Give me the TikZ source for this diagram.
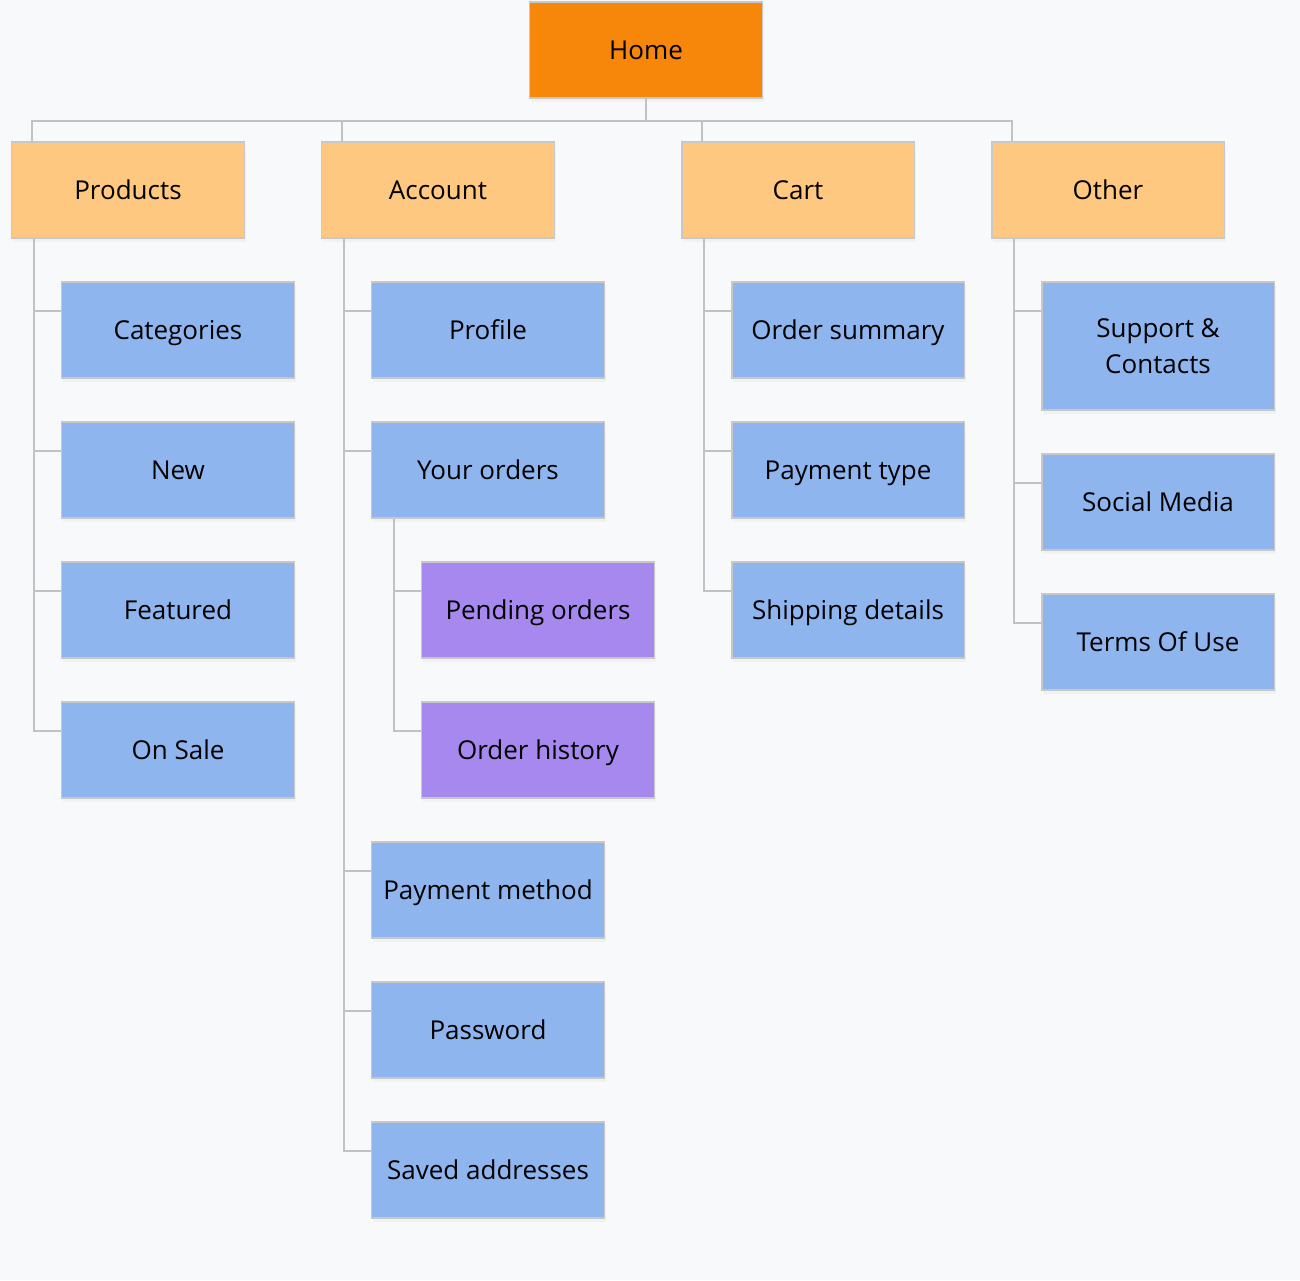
\documentclass[tikz,border=0pt]{standalone}
\usepackage{fontspec}
\setmainfont{Open Sans}
\usepackage{tikz}
\usetikzlibrary{shadows}
\definecolor{bgcol}{HTML}{F8F9FB}
\definecolor{homecol}{HTML}{F6870A}
\definecolor{sectcol}{HTML}{FFC880}
\definecolor{pagecol}{HTML}{8FB5EE}
\definecolor{subcol}{HTML}{A688EE}
\definecolor{edgecol}{HTML}{C8C8C8}
\definecolor{linecol}{HTML}{C2C2C2}

\begin{document}
\begin{tikzpicture}[x=0.02cm,y=-0.02cm,
  box/.style={draw=edgecol,line width=1.1pt,minimum width=4.66cm,minimum height=1.92cm,
    inner sep=2pt,align=center,font=\fontsize{14.8}{20.5}\selectfont,
    text height=12.5pt,text depth=1.6pt,
    drop shadow={opacity=0.06,shadow xshift=1pt,shadow yshift=-2pt}},
  home/.style={box,fill=homecol},
  sect/.style={box,fill=sectcol},
  page/.style={box,fill=pagecol},
  sub/.style={box,fill=subcol},
  link/.style={draw=linecol,line width=1.1pt}]
\useasboundingbox[fill=bgcol] (0,0) rectangle (1300,1280);

% top level
\node[home] (home) at (646,50) {Home};
\node[sect] (prod) at (128,190) {Products};
\node[sect] (acc) at (438,190) {Account};
\node[sect] (cart) at (798,190) {Cart};
\node[sect] (other) at (1108,190) {Other};

% products
\node[page] (cat) at (178,330) {Categories};
\node[page] (new) at (178,470) {New};
\node[page] (feat) at (178,610) {Featured};
\node[page] (sale) at (178,750) {On Sale};

% account
\node[page] (profile) at (488,330) {Profile};
\node[page] (orders) at (488,470) {Your orders};
\node[sub] (pending) at (538,610) {Pending orders};
\node[sub] (history) at (538,750) {Order history};
\node[page] (paymeth) at (488,890) {Payment method};
\node[page] (passw) at (488,1030) {Password};
\node[page] (saved) at (488,1170) {Saved addresses};

% cart
\node[page] (summary) at (848,330) {Order summary};
\node[page] (paytype) at (848,470) {Payment type};
\node[page] (ship) at (848,610) {Shipping details};

% other
\node[page,minimum height=2.56cm,text height=,text depth=] (support) at (1158,346) {Support \&\\Contacts};
\node[page] (social) at (1158,502) {Social Media};
\node[page] (terms) at (1158,642) {Terms Of Use};

% links
\coordinate (bus) at (646,121);
\draw[link] (home.south) -- (bus);
\foreach \s in {prod,acc,cart,other}
  \draw[link] ([xshift=0.42cm]\s.north west) |- (bus);
\foreach \c in {cat,new,feat,sale}
  \draw[link] ([xshift=0.46cm]prod.south west) |- ([yshift=-0.6cm]\c.north west);
\foreach \c in {profile,orders,paymeth,passw,saved}
  \draw[link] ([xshift=0.46cm]acc.south west) |- ([yshift=-0.6cm]\c.north west);
\foreach \c in {pending,history}
  \draw[link] ([xshift=0.46cm]orders.south west) |- ([yshift=-0.6cm]\c.north west);
\foreach \c in {summary,paytype,ship}
  \draw[link] ([xshift=0.46cm]cart.south west) |- ([yshift=-0.6cm]\c.north west);
\foreach \c in {support,social,terms}
  \draw[link] ([xshift=0.46cm]other.south west) |- ([yshift=-0.6cm]\c.north west);
\end{tikzpicture}
\end{document}
